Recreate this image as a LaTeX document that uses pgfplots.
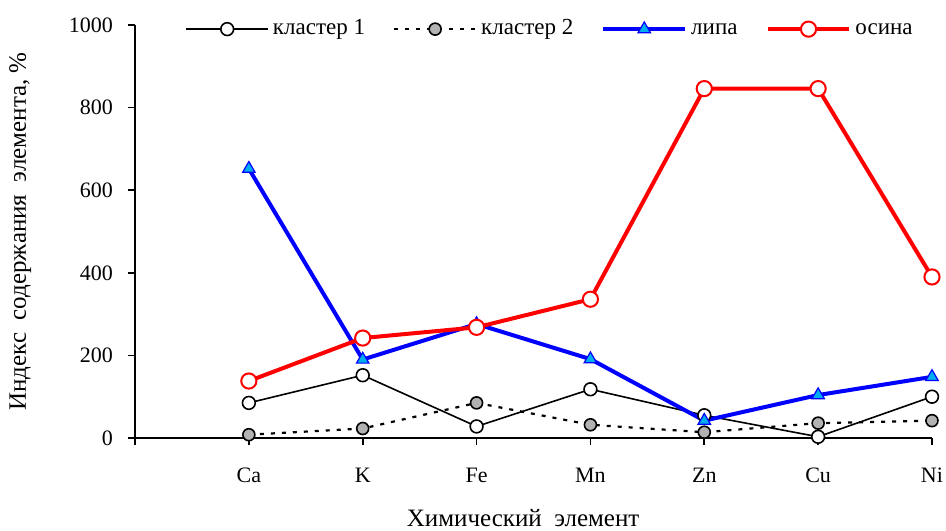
\documentclass[border=0pt]{standalone}
\usepackage{fontspec}
\setmainfont{Liberation Serif}
\usepackage{pgfplots}
\pgfplotsset{compat=1.18}
\definecolor{greyfill}{RGB}{178,178,178}
\begin{document}
\begin{tikzpicture}[font=\fontsize{11}{13}\selectfont]
\useasboundingbox (-67.5pt,-46pt) rectangle (405.5pt,219pt);
\begin{axis}[
  scale only axis,
  width=398.5pt, height=206.5pt,
  at={(0,0)}, anchor=south west,
  xmin=0, xmax=7, ymin=0, ymax=1000,
  axis x line=bottom, axis y line=left,
  axis line style={line width=0.8pt, -},
  xtick={0,1,2,3,4,5,6,7},
  xticklabels={,Ca,K,Fe,Mn,Zn,Cu,Ni},
  ytick={0,200,400,600,800,1000},
  tick align=outside,
  major tick length=3.5pt,
  tick style={line width=0.8pt, black},
  /pgf/number format/assume math mode=true,
  /pgf/number format/set thousands separator={},
  yticklabel style={xshift=-4pt},
  xticklabel style={yshift=-8pt},
  xlabel={Химический\ \ элемент},
  ylabel={Индекс\ \ содержания\ \ элемента, \%},
  xlabel style={font=\fontsize{12.5}{14}\selectfont, at={(axis description cs:0.487,-0.194)}, anchor=center},
  ylabel style={font=\fontsize{12.5}{14}\selectfont, at={(axis description cs:-0.144,0.5)}, anchor=center},
  legend columns=4,
  legend style={draw=none, fill=none, at={(axis description cs:0.522,0.99)}, anchor=center,
    font=\fontsize{11.5}{13}\selectfont, column sep=0pt,
    /tikz/every even column/.append style={column sep=12pt},
    nodes={inner xsep=2pt, text height=1.6ex, text depth=0.5ex}},
  legend image code/.code={\draw[mark repeat=2,mark phase=2] plot coordinates {(0cm,0cm)(0.72cm,0cm)(1.44cm,0cm)};},
  clip=false,
]
\addplot[black, line width=0.8pt, mark=*, mark size=3.2pt, mark options={fill=white, line width=0.8pt, solid}]
  coordinates {(1,85) (2,152) (3,28) (4,118) (5,55) (6,3) (7,100)};
\addlegendentry{кластер 1}
\addplot[black, line width=1.1pt, dash pattern=on 2pt off 3.5pt, mark=*, mark size=3pt, mark options={fill=greyfill, line width=0.8pt, solid}]
  coordinates {(1,8) (2,23) (3,85) (4,32) (5,14) (6,36) (7,42)};
\addlegendentry{кластер 2}
\addplot[blue, line width=2pt, mark=triangle*, mark size=3.6pt, mark options={fill=cyan, draw=blue, line width=0.6pt, solid}]
  coordinates {(1,652) (2,190) (3,276) (4,191) (5,42) (6,104) (7,148)};
\addlegendentry{липа}
\addplot[red, line width=2pt, mark=*, mark size=3.8pt, mark options={fill=white, draw=red, line width=1pt, solid}]
  coordinates {(1,138) (2,242) (3,268) (4,336) (5,846) (6,846) (7,390)};
\addlegendentry{осина}
\end{axis}
\end{tikzpicture}
\end{document}
